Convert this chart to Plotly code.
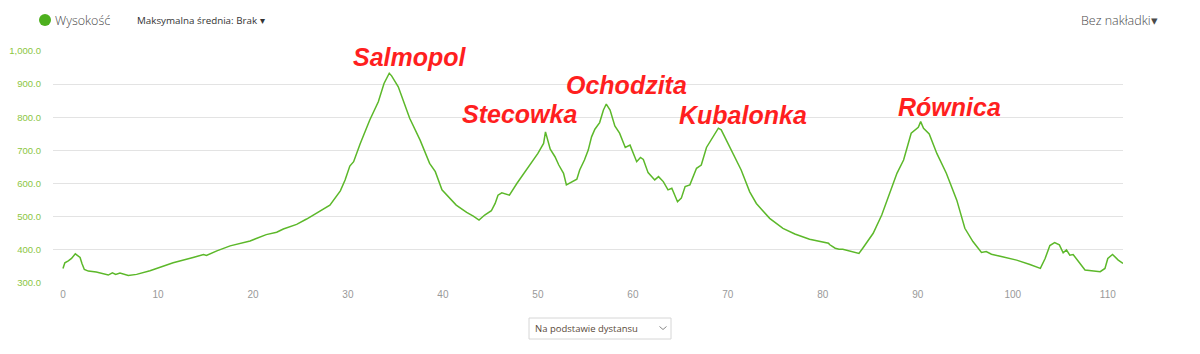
import plotly.graph_objects as go

km = [0.0, 0.2, 0.56, 0.9, 1.3, 1.8, 2.0, 2.25, 2.67, 3.5, 4.77, 5.2, 5.55, 6.0, 6.88, 7.75,
      9.16, 11.6, 13.7, 14.8, 15.1, 16.2, 17.6, 19.7, 21.4, 22.5, 23.2, 24.6, 25.65, 27.0,
      28.1, 29.2, 29.7, 30.2, 30.6, 31.3, 32.3, 33.2, 33.8, 34.35, 34.6, 35.3, 35.8, 36.5,
      37.6, 38.6, 39.2, 39.9, 41.4, 42.5, 43.2, 43.8, 44.4, 45.1, 45.5, 45.8, 46.2, 47.0,
      47.8, 48.8, 50.0, 50.6, 50.8, 51.3, 51.8, 52.2, 52.7, 53.0, 53.5, 54.1, 54.4, 54.9,
      55.3, 55.65, 56.0, 56.5, 56.9, 57.2, 57.6, 58.1, 58.6, 59.2, 59.7, 60.4, 60.8, 61.1,
      61.6, 62.3, 62.7, 63.2, 63.7, 64.1, 64.7, 65.1, 65.5, 66.0, 66.7, 67.2, 67.75, 68.45,
      69.0, 69.3, 70.4, 71.4, 72.3, 73.0, 74.4, 75.8, 77.05, 78.6, 80.6, 80.7, 81.3, 81.7,
      82.1, 83.4, 83.8, 84.2, 85.3, 86.2, 87.05, 87.8, 88.5, 89.3, 90.05, 90.3, 90.6, 91.2,
      92.0, 93.0, 94.1, 94.95, 95.8, 96.7, 97.2, 97.75, 98.9, 100.4, 101.8, 102.9, 103.4,
      103.9, 104.4, 104.9, 105.3, 105.65, 106.0, 106.35, 107.6, 108.5, 109.2, 109.7, 110.0,
      110.5, 111.1, 111.6]
elev = [344, 361, 367, 374, 388, 377, 359, 341, 336, 333, 324, 331, 326, 330, 323, 326,
        337, 361, 377, 386, 383, 397, 412, 427, 446, 453, 463, 477, 493, 516,
        535, 578, 611, 653, 666, 721, 792, 847, 902, 933, 925, 892, 852, 797,
        731, 661, 636, 581, 535, 513, 502, 490, 505, 518, 540, 565, 572, 565,
        601, 641, 691, 721, 756, 704, 681, 656, 631, 596, 603, 613, 641, 671,
        701, 741, 764, 784, 822, 840, 822, 774, 752, 709, 716, 666, 679, 673,
        633, 611, 621, 606, 581, 586, 545, 556, 591, 596, 646, 656, 709, 741,
        767, 762, 701, 641, 575, 540, 495, 465, 448, 432, 420, 416, 405, 402,
        402, 392, 389, 405, 450, 505, 571, 631, 671, 752, 770, 787, 767, 750,
        691, 631, 550, 465, 425, 392, 395, 387, 379, 369, 356, 344, 374,
        413, 422, 415, 391, 400, 384, 386, 339, 337, 334, 344, 374,
        386, 369, 359]

peak_names = ["Salmopol", "Stecowka", "Ochodzita", "Kubalonka", "Równica"]
peak_label_km = [36.5, 48.1, 59.3, 71.6, 93.3]
peak_label_elev = [982, 810, 897, 807, 831]

x_ticks = [0, 10, 20, 30, 40, 50, 60, 70, 80, 90, 100, 110]
y_ticks = [300, 400, 500, 600, 700, 800, 900, 1000]

fig = go.Figure()
fig.add_trace(go.Scatter(x=km, y=elev, mode="lines", name="Wysokość",
                         line=dict(color="#5cb82a", width=1.5), hoverinfo="skip"))

for name, xk, ye in zip(peak_names, peak_label_km, peak_label_elev):
    fig.add_annotation(x=xk, y=ye, xref="x", yref="y", text=name, showarrow=False,
                       yanchor="middle",
                       font=dict(family="Liberation Sans", size=25, color="#ff1f1f",
                                 weight="bold", style="italic"))

L, R, T, B = 53, 77, 51, 71
W, H = 1200, 354
pw, ph = W - L - R, H - T - B

def px(xp):
    return (xp - L) / pw

def py(yp):
    return (H - B - yp) / ph

# legend-like header
fig.add_shape(type="circle", xref="paper", yref="paper", xsizemode="pixel", ysizemode="pixel",
              xanchor=px(45), yanchor=py(20), x0=-6, x1=6, y0=-6, y1=6,
              fillcolor="#4db01e", line=dict(width=0))
fig.add_annotation(x=px(53), y=py(20), xref="paper", yref="paper", xanchor="left",
                   yanchor="middle", text="Wysokość", showarrow=False,
                   font=dict(family="Open Sans", size=12.5, weight=300, color="#4a4a4a"))
fig.add_annotation(x=px(135), y=py(21), xref="paper", yref="paper", xanchor="left",
                   yanchor="middle", text="Maksymalna średnia: Brak ▾", showarrow=False,
                   font=dict(family="Open Sans", size=9.8, color="#333333"))
fig.add_annotation(x=px(1160), y=py(20), xref="paper", yref="paper", xanchor="right",
                   yanchor="middle", text="Bez nakładki▾", showarrow=False,
                   font=dict(family="Open Sans", size=12.5, weight=300, color="#4a4a4a"))

# dropdown at bottom
fig.add_shape(type="rect", xref="paper", yref="paper", x0=px(529), x1=px(671),
              y0=py(339), y1=py(318), fillcolor="white",
              line=dict(color="#d6d6d6", width=1))
fig.add_annotation(x=px(533), y=py(328), xref="paper", yref="paper", xanchor="left",
                   yanchor="middle", text="Na podstawie dystansu", showarrow=False,
                   font=dict(family="Open Sans", size=9.5, color="#5a4a3a"))
fig.add_shape(type="path", xref="paper", yref="paper", xsizemode="pixel", ysizemode="pixel",
              xanchor=px(663), yanchor=py(328), path="M-3.5,1.5 L0,-1.5 L3.5,1.5",
              line=dict(color="#888888", width=1))

fig.update_layout(
    width=W, height=H,
    margin=dict(l=L, r=R, t=T, b=B, autoexpand=False),
    plot_bgcolor="white", paper_bgcolor="white",
    showlegend=False,
    xaxis=dict(range=[-1.05, 111.6], tickvals=x_ticks, showgrid=False, zeroline=False,
               showline=False, ticks="", ticklabelstandoff=4, automargin=False,
               tickfont=dict(family="Liberation Sans", size=10, color="#999999")),
    yaxis=dict(range=[300, 1000], tickvals=y_ticks, tickformat=",.1f", showgrid=True,
               gridcolor="#e3e3e3", gridwidth=1, zeroline=False, showline=False, ticks="",
               ticklabelstandoff=11, automargin=False,
               tickfont=dict(family="Liberation Sans", size=9.5, color="#8cc63f")),
)

fig.write_html("out.html")
